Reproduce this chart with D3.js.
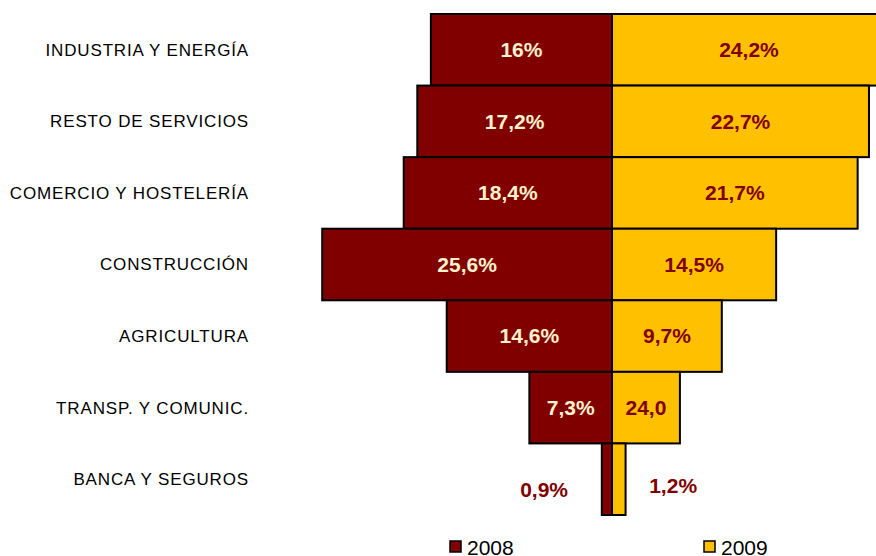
<!DOCTYPE html>
<html>
<head>
<meta charset="utf-8">
<script src="https://cdn.jsdelivr.net/npm/d3@7"></script>
<style>
  body { margin: 0; background: #fff; }
  svg { display: block; font-family: "Liberation Sans", Arial, sans-serif; }
</style>
</head>
<body>
<svg id="chart" width="876" height="556"></svg>
<script>
var categories = ["INDUSTRIA Y ENERGÍA", "RESTO DE SERVICIOS", "COMERCIO Y HOSTELERÍA",
                  "CONSTRUCCIÓN", "AGRICULTURA", "TRANSP. Y COMUNIC.", "BANCA Y SEGUROS"];
var values2008 = [16, 17.2, 18.4, 25.6, 14.6, 7.3, 0.9];
var values2009 = [24.2, 22.7, 21.7, 14.5, 9.7, 6.0, 1.2];
var labels2008 = ["16%", "17,2%", "18,4%", "25,6%", "14,6%", "7,3%", "0,9%"];
var labels2009 = ["24,2%", "22,7%", "21,7%", "14,5%", "9,7%", "24,0", "1,2%"];
var seriesNames = ["2008", "2009"];

var c2008 = "#800000", c2009 = "#FFC000";

var svg = d3.select("#chart");

var x = d3.scaleLinear().domain([-30, 30]).range([612 - 339.6, 612 + 339.6]);
var y = d3.scaleBand().domain(categories).range([14, 515]).padding(0);

// category labels
svg.append("g").selectAll("text")
  .data(categories)
  .enter().append("text")
  .attr("x", 249)
  .attr("y", function(d) { return y(d) + y.bandwidth() / 2; })
  .attr("dy", "0.35em")
  .attr("text-anchor", "end")
  .attr("font-size", 17)
  .attr("letter-spacing", 0.85)
  .attr("fill", "#000")
  .text(function(d) { return d; });

var rows = categories.map(function(c, i) {
  return {cat: c, a: values2008[i], b: values2009[i], la: labels2008[i], lb: labels2009[i]};
});

var g = svg.append("g");

g.selectAll("rect.a")
  .data(rows).enter().append("rect")
  .attr("class", "a")
  .attr("x", function(d) { return x(-d.a); })
  .attr("y", function(d) { return y(d.cat); })
  .attr("width", function(d) { return x(0) - x(-d.a); })
  .attr("height", y.bandwidth())
  .attr("fill", c2008)
  .attr("stroke", "#000")
  .attr("stroke-width", 2);

g.selectAll("rect.b")
  .data(rows).enter().append("rect")
  .attr("class", "b")
  .attr("x", x(0))
  .attr("y", function(d) { return y(d.cat); })
  .attr("width", function(d) { return x(d.b) - x(0); })
  .attr("height", y.bandwidth())
  .attr("fill", c2009)
  .attr("stroke", "#000")
  .attr("stroke-width", 2);

// value labels
var small = 2; // bars narrower than this (in %) get labels outside
g.selectAll("text.la")
  .data(rows).enter().append("text")
  .attr("x", function(d) { return d.a < small ? x(-6) : (x(-d.a) + x(0)) / 2; })
  .attr("y", function(d) { return y(d.cat) + y.bandwidth() / 2 + (d.a < small ? 10 : 0); })
  .attr("dy", "0.35em")
  .attr("text-anchor", "middle")
  .attr("font-size", 21)
  .attr("font-weight", "bold")
  .attr("fill", function(d) { return d.a < small ? c2008 : "#FFF2CC"; })
  .text(function(d) { return d.la; });

g.selectAll("text.lb")
  .data(rows).enter().append("text")
  .attr("x", function(d) { return d.b < small ? x(5.4) : (x(d.b) + x(0)) / 2; })
  .attr("y", function(d) { return y(d.cat) + y.bandwidth() / 2 + (d.b < small ? 6 : 0); })
  .attr("dy", "0.35em")
  .attr("text-anchor", "middle")
  .attr("font-size", 21)
  .attr("font-weight", "bold")
  .attr("fill", c2008)
  .text(function(d) { return d.lb; });

// legend
var legend = svg.append("g").selectAll("g")
  .data(seriesNames).enter().append("g")
  .attr("transform", function(d, i) { return "translate(" + (450 + i * 254) + ",541)"; });
legend.append("rect")
  .attr("width", 11).attr("height", 11)
  .attr("fill", function(d, i) { return i ? c2009 : c2008; })
  .attr("stroke", "#000").attr("stroke-width", 1.5);
legend.append("text")
  .attr("x", 17).attr("y", 14)
  .attr("font-size", 21)
  .attr("fill", "#000")
  .text(function(d) { return d; });
</script>
</body>
</html>
